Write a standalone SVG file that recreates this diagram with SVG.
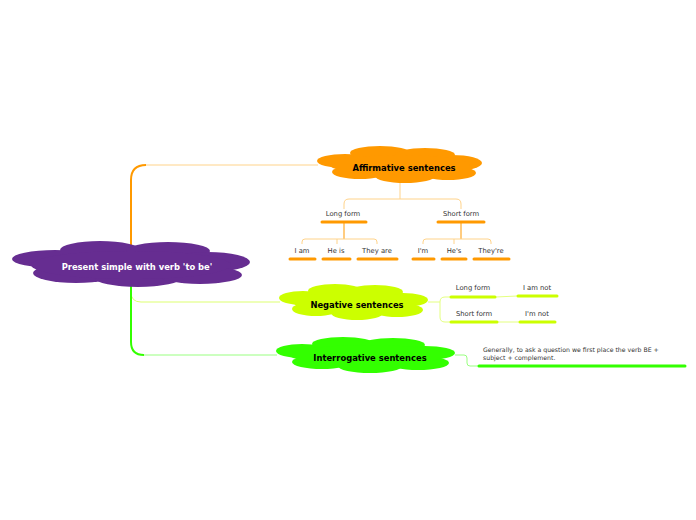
<svg xmlns="http://www.w3.org/2000/svg" width="696" height="520" viewBox="0 0 696 520">
<style>
.t{font-family:"DejaVu Sans",Verdana,sans-serif;font-size:6.8px;fill:#333;text-anchor:middle}
.n{font-family:"DejaVu Sans",Verdana,sans-serif;font-size:6.2px;fill:#333}
.b{font-family:"DejaVu Sans",Verdana,sans-serif;font-size:8.4px;font-weight:bold;text-anchor:middle}
.bar{stroke-width:3;stroke-linecap:round;fill:none}
.c{fill:none}
</style>
<rect width="696" height="520" fill="#fff"/>
<g id="connectors" class="c">
<path d="M131,252 V180 Q131,165 146,165" stroke="#ff9900" stroke-width="2" fill="none"/>
<path d="M146,165 H318" stroke="#ffd38a" stroke-width="1" fill="none"/>
<path d="M131,284 V292 Q131,302 141,302 H280" stroke="#ddff70" stroke-width="1" fill="none"/>
<path d="M131,284 V288" stroke="#ccff00" stroke-width="2" fill="none"/>
<path d="M131,284 V342 Q131,355 144,355" stroke="#33ff00" stroke-width="2" fill="none"/>
<path d="M144,355 H277" stroke="#99ff80" stroke-width="1" fill="none"/>
<path d="M400,183 V199 M344,209 V204 Q344,199 349,199 H456 Q461,199 461,204 V209" stroke="#ffd38a" stroke-width="1" fill="none"/>
<path d="M344,223 V239" stroke="#ff9900" stroke-width="1" fill="none"/>
<path d="M302,244 V242 Q302,239 305,239 H374 Q377,239 377,242 V244 M337,239 V244" stroke="#ffd38a" stroke-width="1" fill="none"/>
<path d="M461,223 V239" stroke="#ff9900" stroke-width="1" fill="none"/>
<path d="M423,244 V242 Q423,239 426,239 H488 Q491,239 491,242 V244 M454,239 V244" stroke="#ffd38a" stroke-width="1" fill="none"/>
<path d="M428,302 H440 M450,297 H445 Q440,297 440,302 V317 Q440,322 445,322 H450 M496,297 L517,296 M498,322 H519" stroke="#e4ff80" stroke-width="1" fill="none"/>
<path d="M455,355 H464 Q467,355 467,358 V363 Q467,366 470,366 H478" stroke="#99ff80" stroke-width="1" fill="none"/>
</g>
<g id="root">
<g fill="#662d91">
<ellipse cx="55" cy="259" rx="43" ry="9"/>
<ellipse cx="100" cy="250" rx="40" ry="9"/>
<ellipse cx="168" cy="251" rx="42" ry="9"/>
<ellipse cx="208" cy="262" rx="42" ry="10"/>
<ellipse cx="76" cy="273" rx="43" ry="10"/>
<ellipse cx="138" cy="278" rx="43" ry="9"/>
<ellipse cx="200" cy="275" rx="42" ry="9"/>
<ellipse cx="131" cy="265" rx="100" ry="14"/>
</g>
<text class="b" x="137" y="270" fill="#fff">Present simple with verb 'to be'</text>
</g>
<g id="affirmative">
<g fill="#ff9900">
<ellipse cx="345" cy="161" rx="28" ry="7"/>
<ellipse cx="380" cy="153" rx="30" ry="7"/>
<ellipse cx="425" cy="155" rx="30" ry="7"/>
<ellipse cx="452" cy="163" rx="30" ry="8"/>
<ellipse cx="360" cy="172" rx="28" ry="7"/>
<ellipse cx="405" cy="176" rx="30" ry="7"/>
<ellipse cx="448" cy="173" rx="28" ry="7"/>
<ellipse cx="400" cy="165" rx="70" ry="10"/>
</g>
<text class="b" x="404" y="171" fill="#000">Affirmative sentences</text>
</g>
<g id="aff-long">
<text class="t" x="343" y="216">Long form</text>
<line class="bar" x1="322" y1="222" x2="366" y2="222" stroke="#ff9900"/>
</g>
<g id="aff-short">
<text class="t" x="461" y="216">Short form</text>
<line class="bar" x1="438" y1="222" x2="484" y2="222" stroke="#ff9900"/>
</g>
<g id="i-am"><text class="t" x="302" y="253">I am</text><line class="bar" x1="290" y1="259" x2="315" y2="259" stroke="#ff9900"/></g>
<g id="he-is"><text class="t" x="336" y="253">He is</text><line class="bar" x1="323" y1="259" x2="350" y2="259" stroke="#ff9900"/></g>
<g id="they-are"><text class="t" x="377" y="253">They are</text><line class="bar" x1="358" y1="259" x2="397" y2="259" stroke="#ff9900"/></g>
<g id="im"><text class="t" x="423" y="253">I'm</text><line class="bar" x1="413" y1="259" x2="434" y2="259" stroke="#ff9900"/></g>
<g id="hes"><text class="t" x="454" y="253">He's</text><line class="bar" x1="442" y1="259" x2="466" y2="259" stroke="#ff9900"/></g>
<g id="theyre"><text class="t" x="491" y="253">They're</text><line class="bar" x1="474" y1="259" x2="509" y2="259" stroke="#ff9900"/></g>
<g id="negative">
<g fill="#ccff00">
<ellipse cx="303" cy="298" rx="24" ry="7"/>
<ellipse cx="335" cy="291" rx="27" ry="7"/>
<ellipse cx="375" cy="292" rx="28" ry="7"/>
<ellipse cx="403" cy="300" rx="25" ry="7"/>
<ellipse cx="316" cy="309" rx="24" ry="7"/>
<ellipse cx="357" cy="313" rx="26" ry="7"/>
<ellipse cx="397" cy="310" rx="26" ry="7"/>
<ellipse cx="355" cy="302" rx="62" ry="10"/>
</g>
<text class="b" x="357" y="308" fill="#000">Negative sentences</text>
</g>
<g id="neg-long"><text class="t" x="473" y="290">Long form</text><line class="bar" x1="451" y1="297" x2="495" y2="297" stroke="#ccff00"/></g>
<g id="neg-short"><text class="t" x="474" y="316">Short form</text><line class="bar" x1="451" y1="322" x2="497" y2="322" stroke="#ccff00"/></g>
<g id="i-am-not"><text class="t" x="537" y="290">I am not</text><line class="bar" x1="518" y1="296" x2="557" y2="296" stroke="#ccff00"/></g>
<g id="im-not"><text class="t" x="537" y="316">I'm not</text><line class="bar" x1="520" y1="322" x2="555" y2="322" stroke="#ccff00"/></g>
<g id="interrogative">
<g fill="#33ff00">
<ellipse cx="302" cy="351" rx="26" ry="7"/>
<ellipse cx="343" cy="344" rx="31" ry="7"/>
<ellipse cx="393" cy="345" rx="32" ry="7"/>
<ellipse cx="425" cy="353" rx="30" ry="7"/>
<ellipse cx="322" cy="362" rx="30" ry="7"/>
<ellipse cx="370" cy="366" rx="32" ry="7"/>
<ellipse cx="418" cy="363" rx="31" ry="7"/>
<ellipse cx="368" cy="355" rx="78" ry="10"/>
</g>
<text class="b" x="370" y="361" fill="#000">Interrogative sentences</text>
</g>
<g id="interrogative-note">
<text class="n" x="483" y="352">Generally, to ask a question we first place the verb BE +</text>
<text class="n" x="483" y="360">subject + complement.</text>
<line class="bar" x1="479" y1="366" x2="685" y2="366" stroke="#33ff00"/>
</g>
</svg>
